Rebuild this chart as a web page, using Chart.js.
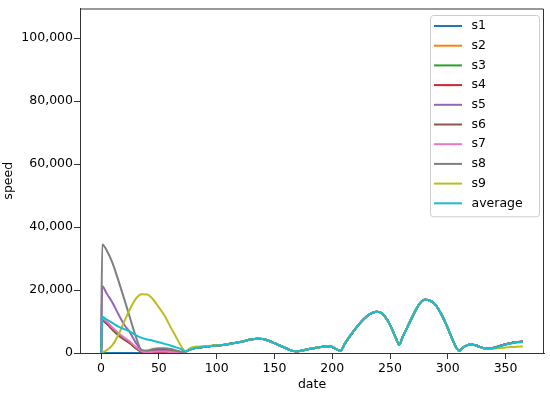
<!DOCTYPE html>
<html>
<head>
<meta charset="utf-8">
<script src="https://cdn.jsdelivr.net/npm/chart.js@4.4.0/dist/chart.umd.min.js"></script>
<style>
html,body{margin:0;padding:0;background:#fff;}
#c{display:block;width:550px;height:394px;}
</style>
</head>
<body>
<canvas id="c" width="550" height="394"></canvas>
<script>
// ---- data ----
const seriesNames = ["s1","s2","s3","s4","s5","s6","s7","s8","s9","average"];
const seriesColors = ["#1f77b4","#ff7f0e","#2ca02c","#d62728","#9467bd","#8c564b","#e377c2","#7f7f7f","#bcbd22","#17becf"];

const xTicks = [0,50,100,150,200,250,300,350];
const yTicks = [0,20000,40000,60000,80000,100000];

// early part (days 0..70) where the series differ
const earlyDays = [0,1,5,10,15,20,25,30,35,40,45,50,55,60,65,70];
const s1Early  = [0,0,0,0,0,0,0,0,0,0,0,0,0,0,0,100];
const s2Early  = [0,10500,9300,7400,5700,4300,3100,1500,400,100,200,300,300,200,100,100];
const s3Early  = [0,10600,9300,7300,5600,4300,3100,1500,400,0,0,100,100,100,50,100];
const s4Early  = [0,10800,9500,7500,5800,4400,3200,1600,400,0,0,100,100,100,50,100];
const s5Early  = [0,21200,18800,15900,12300,9000,6500,3300,900,300,600,800,700,500,300,200];
const s6Early  = [0,10300,9200,7600,6000,4600,3300,1700,500,500,900,1200,1200,1000,600,300];
const s7Early  = [0,11000,9900,8000,6300,4900,3600,1900,600,200,400,500,500,300,150,100];
const s8Early  = [0,34500,32500,28500,23000,17200,11200,5300,1000,800,1300,1500,1500,1300,800,400];
const s9Early  = [0,200,900,2600,5800,10000,14000,17200,18700,18600,17000,14500,11800,8300,5000,1700];
const avgEarly = [0,11500,10600,9500,8400,7600,6800,5700,4800,4300,3900,3400,2900,2400,1800,1100];

// late part (days 73..365) where the series coincide
const lateDays = [73,77,80,85,90,95,100,105,110,115,120,125,130,135,140,145,150,155,160,165,168,172,176,180,185,190,195,199,203,207,211,215,220,225,230,235,239,243,247,251,255,258,261,265,270,275,280,285,290,295,300,304,307,310,313,317,320,324,328,332,336,340,345,350,355,360,365];
const lateShared = [450,1100,1500,1800,2000,2200,2400,
  2550,2800,3150,3450,3900,4350,4550,4450,3900,3150,
  2300,1500,750,550,650,950,1250,1600,1900,2150,
  2050,1300,650,3000,5200,7700,9900,11700,12800,13100,
  12600,10900,8200,4800,2650,5200,8200,12000,15400,16900,
  16600,15000,11900,7900,4300,1900,650,1700,2500,2750,
  2450,1900,1500,1450,1650,2200,2800,3200,3500,3650];
const s9Late = [500,1500,1900,2100,2200,2300,2450,
  2550,2800,3150,3450,3900,4350,4550,4450,3900,3150,
  2300,1500,750,550,650,950,1250,1600,1900,2150,
  2050,1300,650,3000,5200,7700,9900,11700,12800,13100,
  12600,10900,8200,4800,2650,5200,8200,12000,15400,16900,
  16600,15000,11900,7900,4300,1900,650,1700,2500,2750,
  2400,1800,1350,1250,1350,1550,1750,1900,2000,2050];
const avgLate = [500,1100,1450,1750,1950,2150,2400,
  2550,2800,3150,3450,3900,4350,4550,4450,3900,3150,
  2300,1500,750,550,650,950,1250,1600,1900,2150,
  2050,1300,650,3000,5200,7700,9900,11700,12800,13100,
  12600,10900,8200,4800,2650,5200,8200,12000,15400,16900,
  16600,15000,11900,7900,4300,1900,650,1700,2500,2750,
  2440,1880,1480,1420,1600,2100,2650,3050,3330,3470];

const earlySets = [s1Early,s2Early,s3Early,s4Early,s5Early,s6Early,s7Early,s8Early,s9Early,avgEarly];
const lateSets  = [lateShared,lateShared,lateShared,lateShared,lateShared,lateShared,lateShared,lateShared,s9Late,avgLate];

function buildPoints(early, late) {
  return earlyDays.map((d,i)=>({x:d,y:early[i]}))
    .concat(lateDays.map((d,i)=>({x:d,y:late[i]})));
}

const datasets = seriesNames.map((name,i)=>({
  label: name,
  data: buildPoints(earlySets[i], lateSets[i]),
  borderColor: seriesColors[i],
  backgroundColor: seriesColors[i],
  borderWidth: 2,
  pointRadius: 0,
  cubicInterpolationMode: 'monotone',
  fill: false,
  order: seriesNames.length - i
}));

const FONT = '"DejaVu Sans", sans-serif';
const TEXT = '#000000';
const AXIS = '#333333';

const framePlugin = {
  id: 'frame',
  afterDatasetsDraw(chart) {
    const {ctx, chartArea:a} = chart;
    ctx.save();
    ctx.strokeStyle = AXIS;
    ctx.lineWidth = 1;
    ctx.beginPath();
    ctx.moveTo(a.left, a.top + 0.5);
    ctx.lineTo(a.right - 0.5, a.top + 0.5);
    ctx.lineTo(a.right - 0.5, a.bottom);
    ctx.stroke();
    ctx.restore();
  }
};

const legendPlugin = {
  id: 'insideLegend',
  afterDraw(chart) {
    const {ctx, chartArea:a} = chart;
    const ds = chart.data.datasets;
    const rowH = 19.7;
    const boxR = a.right - 5, boxL = boxR - 109;
    const boxT = a.top + 6.5;
    const boxB = boxT + 11 + (ds.length - 1) * rowH + 13;
    ctx.save();
    ctx.beginPath();
    if (ctx.roundRect) ctx.roundRect(boxL + 0.5, boxT + 0.5, boxR - boxL, boxB - boxT, 3);
    else ctx.rect(boxL + 0.5, boxT + 0.5, boxR - boxL, boxB - boxT);
    ctx.fillStyle = 'rgba(255,255,255,0.8)';
    ctx.fill();
    ctx.strokeStyle = '#cccccc';
    ctx.lineWidth = 1;
    ctx.stroke();
    ctx.font = '12.5px ' + FONT;
    ctx.textBaseline = 'middle';
    ctx.textAlign = 'left';
    ds.forEach((d, i) => {
      const y = boxT + 11 + i * rowH;
      ctx.strokeStyle = d.borderColor;
      ctx.lineWidth = 2;
      ctx.beginPath();
      ctx.moveTo(boxL + 4, y);
      ctx.lineTo(boxL + 32, y);
      ctx.stroke();
      ctx.fillStyle = TEXT;
      ctx.fillText(d.label, boxL + 41.5, y);
    });
    ctx.restore();
  }
};

new Chart(document.getElementById('c'), {
  type: 'line',
  data: { datasets },
  plugins: [framePlugin, legendPlugin],
  options: {
    responsive: false,
    animation: false,
    devicePixelRatio: 1,
    layout: { padding: { left: 0, right: 6, top: 5, bottom: 0 } },
    plugins: { legend: { display: false }, tooltip: { enabled: false } },
    scales: {
      x: {
        type: 'linear',
        min: -18.25,
        max: 383.25,
        afterBuildTicks: s => { s.ticks = xTicks.map(v => ({value: v})); },
        afterFit: s => { s.height = 41; },
        ticks: { font: { family: FONT, size: 12.5 }, color: TEXT, padding: 2, maxRotation: 0,
                 callback: v => String(v) },
        grid: { drawOnChartArea: false, tickLength: 6, color: AXIS, tickWidth: 1 },
        border: { color: AXIS, width: 1 },
        title: { display: true, text: 'date', font: { family: FONT, size: 12.5 }, color: TEXT,
                 padding: { top: 0, bottom: 1.5 } }
      },
      y: {
        type: 'linear',
        min: 0,
        max: 109450,
        afterBuildTicks: s => { s.ticks = yTicks.map(v => ({value: v})); },
        afterFit: s => { s.width = 80; },
        ticks: { font: { family: FONT, size: 12.5 }, color: TEXT, padding: 1,
                 callback: v => Number(v).toLocaleString('en-US') },
        grid: { drawOnChartArea: false, tickLength: 6, color: AXIS, tickWidth: 1 },
        border: { color: AXIS, width: 1 },
        title: { display: true, text: 'speed', font: { family: FONT, size: 12.5 }, color: TEXT,
                 padding: { top: 1.5, bottom: 0 } }
      }
    }
  }
});
</script>
</body>
</html>
